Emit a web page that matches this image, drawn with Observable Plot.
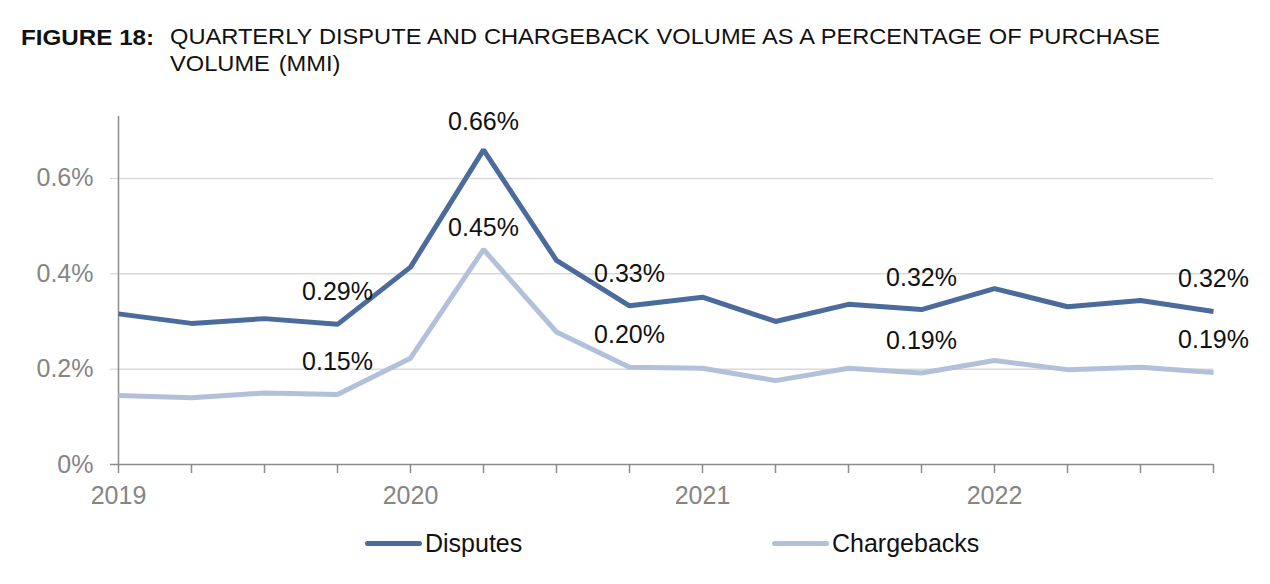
<!DOCTYPE html>
<html>
<head>
<meta charset="utf-8">
<script src="https://cdn.jsdelivr.net/npm/d3@7"></script>
<script src="https://cdn.jsdelivr.net/npm/@observablehq/plot@0.6"></script>
<style>
  html, body { margin: 0; padding: 0; background: #fff; }
  #wrap { position: relative; width: 1270px; height: 584px; overflow: hidden; font-family: "Liberation Sans", Arial, sans-serif; }
  #fig { position: absolute; left: 21px; top: 24px; font-size: 22px; font-weight: bold; color: #111; line-height: 27px; transform: scaleX(1.1); transform-origin: left top; }
  #t1 { position: absolute; left: 170px; top: 24px; width: 900px; font-size: 21.5px; color: #111; line-height: 27px; text-align: justify; text-align-last: justify; white-space: nowrap; transform: scaleX(1.1); transform-origin: left top; }
  #t2 { position: absolute; left: 170px; top: 51px; font-size: 21.5px; color: #111; line-height: 27px; word-spacing: 2px; transform: scaleX(1.1); transform-origin: left top; }
  #chart { position: absolute; left: 0; top: 100px; }
  .leg { position: absolute; top: 528px; font-size: 25px; color: #111; line-height: 30px; display: flex; align-items: center; }
  .sw { display: inline-block; width: 57px; height: 5px; border-radius: 3px; margin-right: 3px; }
</style>
</head>
<body>
<div id="wrap">
  <div id="fig">FIGURE 18:</div>
  <div id="t1"></div>
  <div id="t2"></div>
  <div id="chart"></div>
  <div id="legend"></div>
</div>
<script>
// ---- data ----
const titleLine1 = "QUARTERLY DISPUTE AND CHARGEBACK VOLUME AS A PERCENTAGE OF PURCHASE";
const titleLine2 = "VOLUME (MMI)";
const quarters = ["2019 Q1","2019 Q2","2019 Q3","2019 Q4","2020 Q1","2020 Q2","2020 Q3","2020 Q4",
                  "2021 Q1","2021 Q2","2021 Q3","2021 Q4","2022 Q1","2022 Q2","2022 Q3","2022 Q4"];
const disputes    = [0.316,0.296,0.306,0.294,0.414,0.660,0.428,0.333,0.351,0.300,0.336,0.325,0.369,0.331,0.344,0.321];
const chargebacks = [0.145,0.140,0.150,0.147,0.223,0.451,0.278,0.204,0.202,0.176,0.202,0.192,0.218,0.199,0.204,0.193];
const yearTickIdx = [0, 4, 8, 12];
const yearLabels  = ["2019", "2020", "2021", "2022"];
const yTicks = [0, 0.2, 0.4, 0.6];
const labelIdx = [3, 5, 7, 11, 15];
const disputeLabels    = ["0.29%", "0.66%", "0.33%", "0.32%", "0.32%"];
const chargebackLabels = ["0.15%", "0.45%", "0.20%", "0.19%", "0.19%"];
const seriesNames = ["Disputes", "Chargebacks"];
const seriesColors = ["#4a6b9c", "#b3c0da"];

// ---- build ----
document.getElementById("t1").textContent = titleLine1;
document.getElementById("t2").textContent = titleLine2;

const rows = [];
quarters.forEach((q, i) => {
  rows.push({i, q, series: seriesNames[0], v: disputes[i]});
  rows.push({i, q, series: seriesNames[1], v: chargebacks[i]});
});
const labRows = [];
labelIdx.forEach((i, k) => {
  labRows.push({i, v: disputes[i], t: disputeLabels[k], peak: i === 5, s: 0});
  labRows.push({i, v: chargebacks[i], t: chargebackLabels[k], peak: i === 5, s: 1});
});
const yearMap = new Map(yearTickIdx.map((d, k) => [d, yearLabels[k]]));

const chart = Plot.plot({
  width: 1270,
  height: 430,
  marginTop: 16,
  marginBottom: 66,
  marginLeft: 118,
  marginRight: 57,
  style: {fontFamily: "'Liberation Sans', Arial, sans-serif", background: "transparent"},
  x: {domain: [0, quarters.length - 1]},
  y: {domain: [0, 0.73]},
  color: {domain: seriesNames, range: seriesColors},
  marks: [
    Plot.gridY(yTicks.filter(d => d > 0), {stroke: "#d9d9d9", strokeOpacity: 1, strokeWidth: 1.5}),
    Plot.axisY(yTicks, {tickSize: 8, tickPadding: 17, stroke: "#d0d0d0", fontSize: 25, fill: "#858585",
      tickFormat: d => d === 0 ? "0%" : d.toFixed(1) + "%", label: null}),
    Plot.axisX(d3.range(quarters.length), {tickSize: 9, stroke: "#8c8c8c", strokeWidth: 1.5, tickFormat: () => "", label: null}),
    Plot.axisX(yearTickIdx, {tickSize: 0, tickPadding: 22, fontSize: 25, fill: "#858585", tickFormat: d => yearMap.get(d), label: null}),
    Plot.ruleX([0], {stroke: "#8c8c8c", strokeWidth: 1.5}),
    Plot.ruleY([0], {stroke: "#8c8c8c", strokeWidth: 1.5, x1: -0.11, x2: quarters.length - 1}),
    Plot.line(rows, {x: "i", y: "v", z: "series", stroke: "series", strokeWidth: 5, strokeLinejoin: "miter", strokeLinecap: "butt"}),
    Plot.text(labRows.filter(d => !d.peak), {x: "i", y: "v", text: "t", dy: -32, fontSize: 25, fill: "#111"}),
    Plot.text(labRows.filter(d => d.peak && d.s === 0), {x: "i", y: "v", text: "t", dy: -28, fontSize: 25, fill: "#111"}),
    Plot.text(labRows.filter(d => d.peak && d.s === 1), {x: "i", y: "v", text: "t", dy: -22, fontSize: 25, fill: "#111"})
  ]
});
document.getElementById("chart").appendChild(chart);

// legend
const legPos = [365, 772];
const legend = document.getElementById("legend");
seriesNames.forEach((name, k) => {
  const el = document.createElement("div");
  el.className = "leg";
  el.style.left = legPos[k] + "px";
  const sw = document.createElement("span");
  sw.className = "sw";
  sw.style.background = seriesColors[k];
  el.appendChild(sw);
  el.appendChild(document.createTextNode(name));
  legend.appendChild(el);
});
</script>
</body>
</html>
